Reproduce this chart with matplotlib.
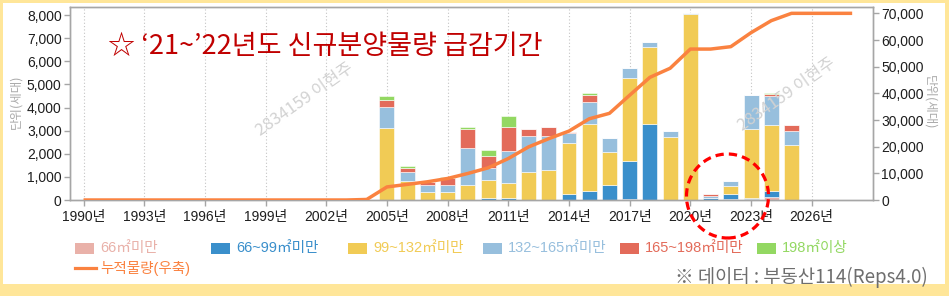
import matplotlib
matplotlib.use("Agg")
import matplotlib.pyplot as plt
from matplotlib.patches import Rectangle, Ellipse
from matplotlib.lines import Line2D
import numpy as np

# ---------------- data ----------------
years = list(range(2005, 2026))
series_names = ["66㎡미만", "66~99㎡미만", "99~132㎡미만", "132~165㎡미만", "165~198㎡미만", "198㎡이상"]
s66 = [0, 0, 0, 0, 0, 0, 0, 0, 0, 0, 0, 0, 40, 0, 0, 0, 0, 40, 40, 120, 0]
s66_99 = [0, 0, 0, 0, 0, 70, 90, 0, 0, 260, 370, 650, 1650, 3290, 0, 0, 100, 220, 60, 270, 0]
s99_132 = [3130, 830, 360, 360, 650, 810, 630, 1225, 1300, 2190, 2930, 1440, 3600, 3320, 2720, 8030, 0, 360, 2960, 2850, 2380]
s132_165 = [900, 390, 290, 290, 1610, 520, 1410, 1560, 1470, 460, 950, 580, 400, 210, 270, 70, 90, 200, 1480, 1270, 620]
s165_198 = [290, 170, 140, 290, 810, 520, 1040, 290, 400, 45, 290, 0, 0, 0, 0, 0, 60, 0, 0, 60, 230]
s198 = [170, 60, 0, 55, 100, 230, 480, 0, 0, 0, 70, 0, 0, 0, 0, 0, 0, 0, 0, 40, 0]

line_years = list(range(1990, 2029))
cumulative = [0] * 14 + [200, 4900, 5850, 6830, 8080, 9950, 12050, 15550, 19900, 23000, 25850,
                         30450, 32500, 39300, 46000, 49400, 56600, 56600, 57500, 62750, 67250,
                         70000, 70000, 70000, 70000]
line_name = "누적물량(우축)"

xtick_years = list(range(1990, 2027, 3))
xtick_labels = [f"{y}년" for y in xtick_years]
left_ticks = list(range(0, 8001, 1000))
right_ticks = list(range(0, 70001, 10000))

title_text = "☆ ‘21~’22년도 신규분양물량 급감기간"
source_text = "※ 데이터 : 부동산114(Reps4.0)"
unit_text = "단위(세대)"
watermark = "2834159 이현주"

colors = ["#E9B1A9", "#3A8FCB", "#F1CB55", "#97BFDD", "#E36B5A", "#93D862"]
line_color = "#FA8240"

FONT = ["Liberation Sans", "Noto Sans CJK KR"]
KFONT = ["Noto Sans CJK KR", "DejaVu Sans"]

W, H = 949, 296
fig = plt.figure(figsize=(W / 100, H / 100), dpi=100)
fig.patch.set_facecolor("#FFE699")
fig.add_artist(Rectangle((3 / W, 1 - 284 / H), 942 / W, 281 / H, transform=fig.transFigure,
                         fc="white", ec="none", zorder=-10))

L, R, T, B = 70, 873, 7, 200
ax = fig.add_axes([L / W, 1 - B / H, (R - L) / W, (B - T) / H])
ax2 = ax.twinx()

x = np.array(years)
bottom = np.zeros(len(years))
for vals, c in zip([s66, s66_99, s99_132, s132_165, s165_198, s198], colors):
    v = np.array(vals, dtype=float)
    ax.bar(x, v, width=0.74, bottom=bottom, color=c, edgecolor="white", linewidth=0.4, zorder=2)
    bottom += v

ax2.plot(line_years, cumulative, color=line_color, lw=2.5, zorder=5, solid_capstyle="butt")

ax.set_xlim(1989.33, 2029.03)
ax.set_ylim(0, 8347)
ax2.set_ylim(0, 72375)

ax.set_xticks(xtick_years)
ax.set_xticklabels(xtick_labels)
ax.set_yticks(left_ticks)
ax.set_yticklabels([f"{v:,}" for v in left_ticks])
ax2.set_yticks(right_ticks)
ax2.set_yticklabels([f"{v:,}" for v in right_ticks])

ax.grid(axis="x", ls=(0, (1, 2)), color="#C4C4C4", lw=0.8, zorder=0)
ax.set_axisbelow(True)

for a in (ax, ax2):
    for s in a.spines.values():
        s.set_color("#A6A6A6")
        s.set_linewidth(1.0)
    a.tick_params(colors="#A6A6A6", labelcolor="#1E1E1E", length=4, width=1, labelsize=10, pad=2)
    for lab in a.get_xticklabels() + a.get_yticklabels():
        lab.set_fontfamily(FONT)
ax.tick_params(axis="x", pad=3)

# axis unit labels
fig.text(16 / W, 1 - 102 / H, unit_text, rotation=90, ha="center", va="center",
         fontsize=9, color="#ABABAB", family=KFONT)
fig.text(930 / W, 1 - 102 / H, unit_text, rotation=-90, ha="center", va="center",
         fontsize=9, color="#ABABAB", family=KFONT)

# title annotation
fig.text(108 / W, 1 - 46 / H, title_text, ha="left", va="center", fontsize=19.5,
         color="#C00000", family=KFONT)

# watermarks
for cx, cy in [(305, 100), (787, 95)]:
    fig.text(cx / W, 1 - cy / H, watermark, rotation=35, ha="center", va="center",
             fontsize=12, color="#D2D2D2", family=KFONT, zorder=6)

# red dashed circle
fig.add_artist(Ellipse((727.5 / W, 1 - 196 / H), 82 / W, 84 / H, transform=fig.transFigure,
                       fill=False, ec="#FF0000", lw=2.3, ls=(0, (2.6, 1.6)), zorder=10))

# legend (manual)
leg_x = [75, 211, 348, 483, 620, 757]
for lx, name, c in zip(leg_x, series_names, colors):
    fig.add_artist(Rectangle((lx / W, 1 - 254 / H), 19 / W, 11 / H, transform=fig.transFigure,
                             fc=c, ec="none"))
    fig.text((lx + 25) / W, 1 - 248 / H, name, ha="left", va="center", fontsize=10.5,
             color=c, family=FONT)
fig.add_artist(Line2D([75 / W, 96 / W], [1 - 268 / H, 1 - 268 / H], transform=fig.transFigure,
                      color=line_color, lw=2.3))
fig.text(100 / W, 1 - 268 / H, line_name, ha="left", va="center", fontsize=10.5,
         color=line_color, family=FONT)

# source
fig.text(928 / W, 1 - 277 / H, source_text, ha="right", va="center", fontsize=13.5,
         color="#6E6E6E", family=KFONT)

fig.savefig("out.png", dpi=100, facecolor=fig.get_facecolor())
